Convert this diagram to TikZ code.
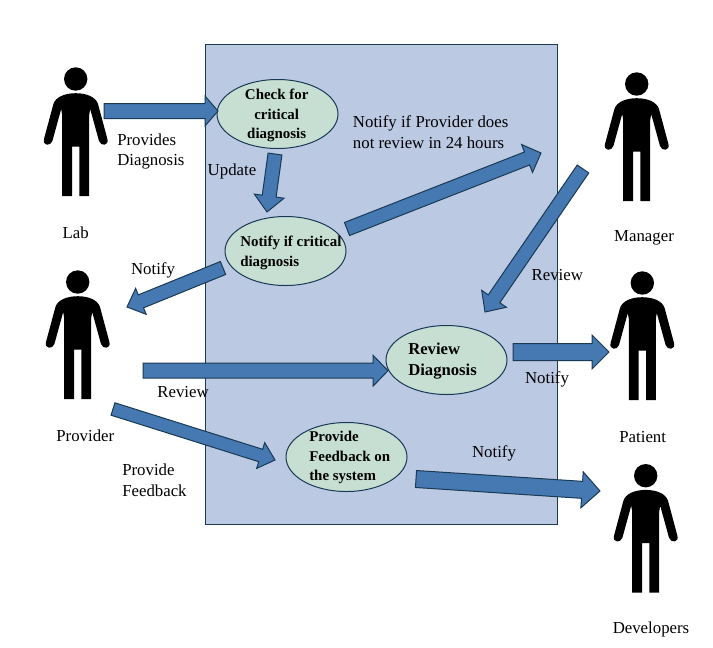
\documentclass[tikz,border=0pt]{standalone}
\usepackage{fontspec}
\setmainfont{Liberation Serif}
\usepackage{xcolor}
\usetikzlibrary{calc,shapes.geometric}
\definecolor{figline}{RGB}{24,58,84}
\definecolor{figpanel}{RGB}{188,201,227}
\definecolor{figoval}{RGB}{199,223,211}
\definecolor{figarrow}{RGB}{70,120,178}
\tikzset{
  panel/.style ={draw=figline, fill=figpanel, line width=0.75pt},
  oval/.style  ={ellipse, draw=figline, fill=figoval, line width=0.75pt, inner sep=0pt, minimum width=90.75pt, minimum height=51.75pt},
  lab/.style   ={font=\fontsize{12.6pt}{15.5pt}\selectfont, inner sep=0pt, align=left},
  labb/.style  ={font=\fontsize{11.2pt}{14.5pt}\selectfont\bfseries, inner sep=0pt, align=left},
  labl/.style  ={font=\fontsize{12.5pt}{16pt}\selectfont\bfseries, inner sep=0pt, align=left},
  blk/.style   ={draw=figline, fill=figarrow, line width=0.75pt, line join=miter},
  person/.pic  ={
    \fill (0,0) circle (11.7);
    \fill (-3.7,117) -- (-13.5,117) -- (-13.5,36) -- (-14.5,30) -- (-23.3,62)
      .. controls (-25,67.5) and (-33.5,67) .. (-31.7,60) -- (-22.3,25)
      .. controls (-20,18) and (-11,14.2) .. (0,14.2)
      .. controls (11,14.2) and (20,18) .. (22.3,25) -- (31.7,60)
      .. controls (33.5,67) and (25,67.5) .. (23.3,62) -- (14.5,30) -- (13.5,36)
      -- (13.5,117) -- (3.7,117) -- (3.7,67.5) -- (-3.7,67.5) -- cycle;
  },
}
% tail, tip, shaft half width, head length, head half width (px)
\newcommand{\blockarrow}[5]{
  \coordinate (hb) at ($(#2)!#4*0.75pt!(#1)$);
  \draw[blk] ($(#1)!#3*0.75pt!90:(#2)$) -- ($(hb)!#3*0.75pt!90:(#2)$)
    -- ($(hb)!#5*0.75pt!90:(#2)$) -- (#2) -- ($(hb)!#5*0.75pt!-90:(#2)$)
    -- ($(hb)!#3*0.75pt!-90:(#2)$) -- ($(#1)!#3*0.75pt!-90:(#2)$) -- cycle;
}

\begin{document}
\begin{tikzpicture}[x=0.75pt,y=-0.75pt]
  \useasboundingbox (0,0) rectangle (713,647);
  \draw[panel] (205,44) rectangle (557,524);

  \pic at (75.7,79) {person};
  \pic at (77.7,282) {person};
  \pic at (636.7,84) {person};
  \pic at (642.3,283) {person};
  \pic at (645.7,475.7) {person};

  \node[oval] (check) at (277.5,114) {};
  \node[oval] (crit) at (285.5,251) {};
  \node[oval] (review) at (446.5,360) {};
  \node[oval] (feedback) at (346.5,457) {};

  \coordinate (labA) at (104,111);
  \coordinate (checkA) at (218,111);
  \coordinate (checkB) at (275,154);
  \coordinate (critA) at (267,212);
  \coordinate (critB) at (223,268);
  \coordinate (provA) at (127,307);
  \coordinate (critC) at (347,229);
  \coordinate (mgrA) at (541,153);
  \coordinate (mgrB) at (583,169);
  \coordinate (reviewA) at (485,312);
  \coordinate (provB) at (143,370.7);
  \coordinate (reviewB) at (388,370.7);
  \coordinate (reviewC) at (513,352);
  \coordinate (patA) at (609,352);
  \coordinate (provC) at (113,409);
  \coordinate (feedbackA) at (275,460);
  \coordinate (feedbackB) at (416,479);
  \coordinate (devA) at (600,491);

  \blockarrow{labA}{checkA}{7.5}{13}{15}
  \blockarrow{checkB}{critA}{7}{16}{15}
  \blockarrow{critB}{provA}{7}{15}{14}
  \blockarrow{critC}{mgrA}{7}{15}{15}
  \blockarrow{mgrB}{reviewA}{7}{16}{15}
  \blockarrow{provB}{reviewB}{7.5}{15}{15.5}
  \blockarrow{reviewC}{patA}{8.5}{17}{17}
  \blockarrow{provC}{feedbackA}{6.5}{15}{13.5}
  \blockarrow{feedbackB}{devA}{8.5}{18}{18}

  \node[labb,align=center] (checkT) at (276.7,115.5) {Check for\\critical\\diagnosis};
  \node[labb,anchor=west] (critT) at (240,253) {Notify if critical\\diagnosis};
  \node[labl,anchor=west] (reviewT) at (408,361) {Review\\Diagnosis};
  \node[labb,anchor=west] (feedbackT) at (309,457.5) {Provide\\Feedback on\\the system};

  \node[lab] (labT) at (75.7,232.7) {Lab};
  \node[lab,anchor=west] (providesT) at (117,151.5) {Provides\\Diagnosis};
  \node[lab] (updateT) at (232,171.7) {Update};
  \node[lab] (notifyA) at (153,270.3) {Notify};
  \node[lab,anchor=west] (escalateT) at (352.7,132) {Notify if Provider does\\not review in 24 hours};
  \node[lab] (mgrT) at (644,238) {Manager};
  \node[lab] (reviewR) at (557.3,275) {Review};
  \node[lab] (notifyB) at (547,379.3) {Notify};
  \node[lab] (reviewL) at (183,392.5) {Review};
  \node[lab] (provT) at (85.3,436) {Provider};
  \node[lab,anchor=west] (provideT) at (122,480.3) {Provide\\Feedback};
  \node[lab] (notifyC) at (494,453.3) {Notify};
  \node[lab] (patT) at (642.7,436.7) {Patient};
  \node[lab] (devT) at (651,629.3) {Developers};
\end{tikzpicture}
\end{document}
